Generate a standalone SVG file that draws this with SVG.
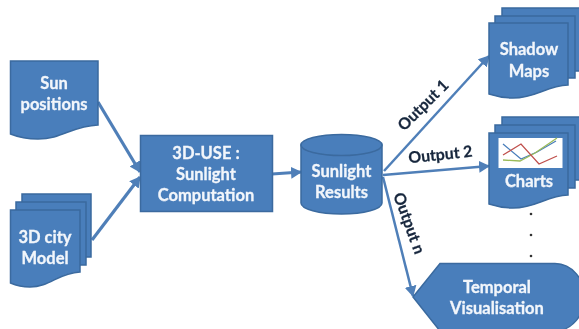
<svg xmlns="http://www.w3.org/2000/svg" width="579" height="329" viewBox="0 0 579 329">
<style>
.s{fill:#4a7ebb;stroke:#3a6a9f;stroke-width:1.5}
.t{font-family:Lato,"Open Sans",sans-serif;font-weight:700;font-size:16.500px;fill:#f2f6fb;stroke:#f2f6fb;stroke-width:0.3;text-anchor:middle}
.l{font-family:Lato,"Open Sans",sans-serif;font-weight:700;font-size:15.800px;fill:#16263c;stroke:#16263c;stroke-width:0.25;text-anchor:middle}
.c{fill:none;stroke:#4f7fb8;stroke-width:2.500;marker-end:url(#a)}
.e{stroke-width:3.200}
.d{fill:#333}
</style>
<defs>
<marker id="a" markerUnits="userSpaceOnUse" markerWidth="12" markerHeight="12" refX="10" refY="6" orient="auto"><path d="M0 0L11 6L0 12Z" fill="#4f7fb8"/></marker>
<filter id="b" x="-5%" y="-5%" width="110%" height="110%"><feGaussianBlur stdDeviation="0.45"/></filter>
</defs>
<rect width="579" height="329" fill="#fff"/>
<g filter="url(#b)">
<g id="connectors">
<path class="c e" d="M98 102L140 172"/>
<path class="c e" d="M92 240L140 177"/>
<path class="c e" d="M272 174L301 172"/>
<path class="c" d="M384 171L489 56"/>
<path class="c" d="M383 175L489 166"/>
<path class="c" d="M383 177L413 296"/>
</g>
<g id="sun-positions">
<path class="s" d="M10.500 61H98V125C72 126 62 139 38 139C26 139 18 137 10.500 134Z"/>
<text class="t" x="54" y="89">Sun</text>
<text class="t" x="54" y="110">positions</text>
</g>
<g id="city-model">
<path class="s" d="M22 194H91V257H22Z"/>
<path class="s" d="M16 202H86V265H16Z"/>
<path class="s" d="M10.500 210H80V272C58 273 50 287 30 287C20 287 15 285 10.500 283Z"/>
<text class="t" x="45" y="243">3D city</text>
<text class="t" x="45" y="264">Model</text>
</g>
<g id="computation">
<rect class="s" x="140.500" y="135.500" width="132" height="76"/>
<text class="t" x="206" y="159">3D-USE :</text>
<text class="t" x="206" y="180">Sunlight</text>
<text class="t" x="206" y="201">Computation</text>
</g>
<g id="results">
<path class="s" d="M301 145V203C301 209 319 214 341.500 214C364 214 382 209 382 203V145Z"/>
<ellipse class="s" cx="341.500" cy="145" rx="40.500" ry="10.500"/>
<text class="t" x="341.500" y="177">Sunlight</text>
<text class="t" x="341.500" y="198">Results</text>
</g>
<g id="shadow-maps">
<path class="s" d="M502 8H582V71H502Z"/>
<path class="s" d="M495 16H575V78H495Z"/>
<path class="s" d="M489 23H568V85C546 86 536 98 513 98C502 98 495 96 489 94Z"/>
<text class="t" x="529" y="55">Shadow</text>
<text class="t" x="529" y="77">Maps</text>
</g>
<g id="charts">
<path class="s" d="M502 117H582V180H502Z"/>
<path class="s" d="M495 125H575V188H495Z"/>
<path class="s" d="M489 133H568V195C546 196 536 208 513 208C502 208 495 206 489 204Z"/>
<rect x="498.500" y="138" width="64" height="30" fill="#fff"/>
<path d="M503 144L521 159L537 152L556 141" fill="none" stroke="#4a7ebb" stroke-width="1.300"/>
<path d="M503 160L520 161L535 153L557 138" fill="none" stroke="#9bbb59" stroke-width="1.300"/>
<path d="M503 155L521 144L539 164L557 156" fill="none" stroke="#c0504d" stroke-width="1.300"/>
<text class="t" x="529" y="187">Charts</text>
</g>
<g id="dots">
<circle class="d" cx="531" cy="214" r="1.300"/>
<circle class="d" cx="531" cy="235" r="1.300"/>
<circle class="d" cx="531" cy="256" r="1.300"/>
</g>
<g id="temporal">
<path class="s" d="M413 297L440 263.500H555C572 263.500 585 280 585 297C585 314 572 331 555 331H440Z"/>
<text class="t" x="497" y="293">Temporal</text>
<text class="t" x="497" y="314">Visualisation</text>
</g>
<g id="labels">
<text class="l" transform="translate(427 109) rotate(-45)">Output 1</text>
<text class="l" transform="translate(441 160) rotate(-6)">Output 2</text>
<text class="l" transform="translate(404 225) rotate(70)">Output n</text>
</g>
</g>
</svg>
